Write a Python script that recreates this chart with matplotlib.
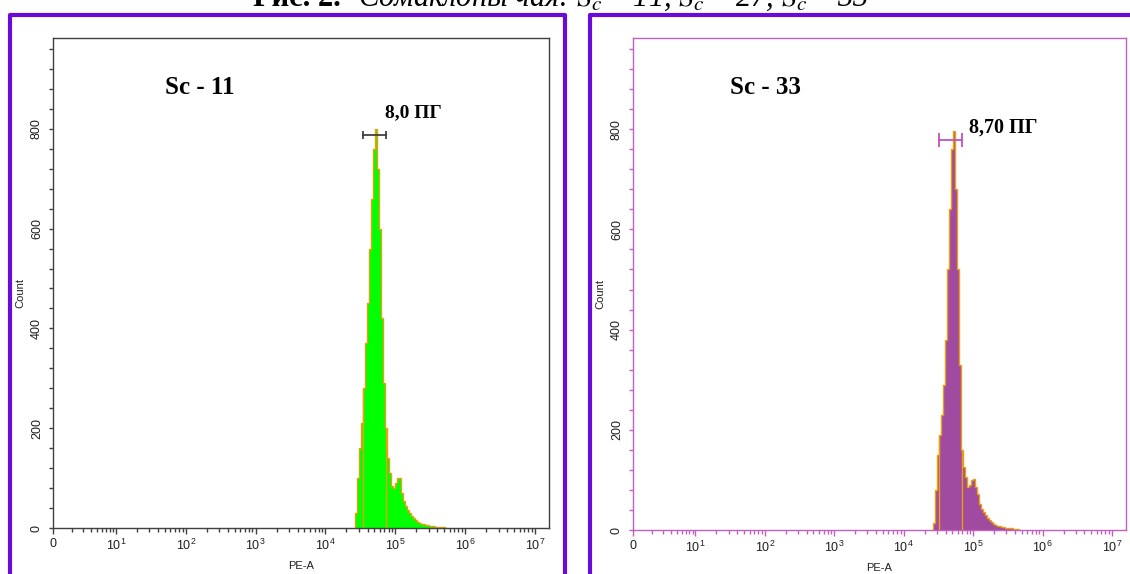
import numpy as np
import matplotlib
matplotlib.use("Agg")
import matplotlib.pyplot as plt
from matplotlib.lines import Line2D

plt.rcParams['font.family'] = ['Liberation Sans', 'DejaVu Sans']
plt.rcParams['mathtext.fontset'] = 'custom'
plt.rcParams['mathtext.rm'] = 'Liberation Sans'
plt.rcParams['mathtext.it'] = 'Liberation Sans:italic'

# histogram bins in log10(PE-A) units
bin_start = 4.42
bin_width = 0.0287

sc11_counts = [30, 100, 160, 210, 280, 370, 450, 560, 660, 760, 800, 720,
               600, 420, 290, 200, 140, 110, 85, 80, 90, 100, 100, 70, 55,
               45, 36, 30, 25, 20, 16, 13, 11, 9, 8, 7, 6, 5, 4, 4, 3, 3,
               2, 2, 2, 1]
sc33_counts = [14, 80, 150, 190, 230, 290, 380, 520, 640, 760, 796, 680,
               520, 330, 160, 125, 106, 85, 90, 100, 102, 85, 72, 52, 42,
               35, 30, 24, 19, 15, 12, 10, 8, 7, 6, 5, 4, 4, 3, 3, 2, 2, 1]

sc11_gate = [4.535, 4.864]
sc33_gate = [4.513, 4.845]
sc11_marker_y = 788
sc33_marker_y = 778

x_ticks = [0.1, 1, 2, 3, 4, 5, 6, 7]
x_labels = ['0', '$10^1$', '$10^2$', '$10^3$', '$10^4$', '$10^5$', '$10^6$', '$10^7$']
y_ticks = [0, 200, 400, 600, 800]

FRAME = '#6A0AD6'
ORANGE = '#E8A010'


def minor_x():
    pos = [0.1 + 0.9 * np.log10(k) for k in range(2, 10)]
    for d in range(1, 7):
        pos += [d + np.log10(k) for k in range(2, 10)]
    return pos


def draw_panel(ax, counts, fill, axis_color, marker_color, gate, marker_y,
               cap, name, value, value_pos, value_size):
    edges = bin_start + bin_width * np.arange(len(counts) + 1)
    ax.stairs(counts, edges, fill=True, color=fill, lw=0)
    ax.stairs(counts, edges, color=ORANGE, lw=1.0)
    for g in gate:
        idx = int((g - bin_start) / bin_width)
        ax.vlines(g, 0, counts[idx], color=ORANGE, lw=1.0)

    # range marker
    ax.plot(gate, [marker_y, marker_y], color=marker_color, lw=1.3)
    ax.vlines(gate, marker_y - cap, marker_y + cap, color=marker_color, lw=1.3)

    ax.set_xlim(0.1, 7.2)
    ax.set_ylim(0, 982)
    ax.set_xticks(x_ticks)
    ax.set_xticklabels(x_labels)
    ax.set_xticks(minor_x(), minor=True)
    ax.set_yticks(y_ticks)
    ax.set_yticklabels([str(v) for v in y_ticks], rotation=90, va='center')
    ax.set_yticks(np.arange(0, 981, 40), minor=True)

    for s in ax.spines.values():
        s.set_color(axis_color)
        s.set_linewidth(1.0)
    ax.tick_params(axis='x', which='major', length=4.5, width=1, color=axis_color,
                   labelsize=9, labelcolor='#202020', pad=2.5)
    ax.tick_params(axis='x', which='minor', length=3.2, width=1, color=axis_color)
    ax.tick_params(axis='y', which='both', length=3.2, width=1, color=axis_color,
                   labelsize=9, labelcolor='#202020', pad=4)

    ax.set_xlabel('PE-A', fontsize=8, color='#202020')
    ax.xaxis.set_label_coords(0.5, -0.068)
    ax.set_ylabel('Count', fontsize=8, color='#202020')
    ax.yaxis.set_label_coords(-0.056, 0.48)

    ax.text(name[1], 0.9, name[0], transform=ax.transAxes, fontsize=18,
            fontweight='bold', family='Liberation Serif', va='center', ha='left')
    ax.text(value_pos[0], value_pos[1], value, transform=ax.transAxes,
            fontsize=value_size, fontweight='bold', family='Liberation Serif',
            va='center', ha='left')


W, H = 1130, 574
fig = plt.figure(figsize=(W / 100, H / 100), dpi=100)

ax1 = fig.add_axes([53 / W, 1 - 528 / H, 496 / W, 490 / H])
ax2 = fig.add_axes([633 / W, 1 - 530 / H, 493 / W, 492 / H])

draw_panel(ax1, sc11_counts, '#00FF00', '#404040', '#404040', sc11_gate,
           sc11_marker_y, 8, ('Sc - 11', 0.226), '8,0 ПГ', (0.67, 0.847), 14)
draw_panel(ax2, sc33_counts, '#A04AA0', '#C060C0', '#C050C0', sc33_gate,
           sc33_marker_y, 14, ('Sc - 33', 0.197), '8,70 ПГ', (0.682, 0.817), 14.5)

# purple frames around the panels
def frame_line(xs, ys):
    fig.add_artist(Line2D([x / W for x in xs], [1 - y / H for y in ys],
                          color=FRAME, lw=3, transform=fig.transFigure,
                          solid_capstyle='projecting'))

frame_line([10, 10, 565, 565], [600, 14.7, 14.7, 600])
frame_line([590, 590, 1140], [600, 14.7, 14.7])

# caption, cut off at the top of the picture
fig.text(253 / W, 1 - 6 / H, 'Рис. 2.', fontsize=22, fontweight='bold',
         family='Liberation Serif', va='baseline', ha='left')
fig.text(358 / W, 1 - 6 / H, 'Сомаклоны чая: $S_c$ – 11, $S_c$ – 27, $S_c$ – 33',
         fontsize=22, style='italic', family='Liberation Serif',
         va='baseline', ha='left', math_fontfamily='stix')

fig.savefig('out.png', dpi=100)
